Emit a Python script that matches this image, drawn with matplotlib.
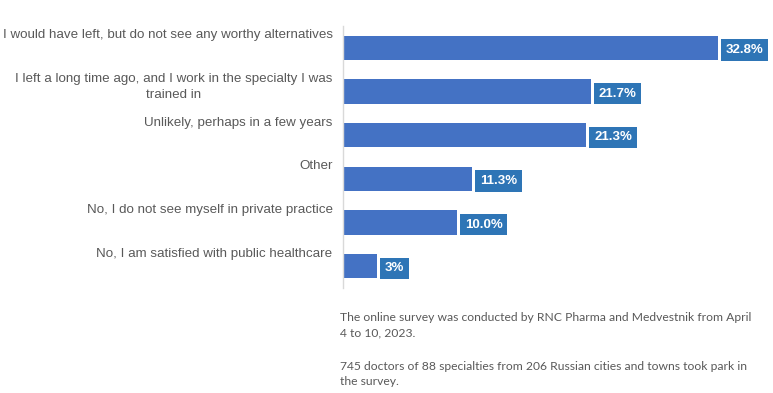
import matplotlib
matplotlib.use("Agg")
import matplotlib.pyplot as plt

# survey answers, top to bottom
answers = [
    "I would have left, but do not see any worthy alternatives",
    "I left a long time ago, and I work in the specialty I was\ntrained in",
    "Unlikely, perhaps in a few years",
    "Other",
    "No, I do not see myself in private practice",
    "No, I am satisfied with public healthcare",
]
shares = [32.8, 21.7, 21.3, 11.3, 10.0, 3.0]
share_labels = ["32.8%", "21.7%", "21.3%", "11.3%", "10.0%", "3%"]

note_1 = ("The online survey was conducted by RNC Pharma and Medvestnik from April\n"
          "4 to 10, 2023.")
note_2 = ("745 doctors of 88 specialties from 206 Russian cities and towns took park in\n"
          "the survey.")

W, H = 773, 393
fig = plt.figure(figsize=(W / 100, H / 100), dpi=100)
# axes in pixel terms: left edge at the grey axis line
ax = fig.add_axes([343 / W, 105 / H, 430 / W, 262 / H])

pos = list(range(len(answers)))
ax.barh(pos, shares, height=0.55, color="#4472C4")
ax.set_xlim(0, 430 / 11.43)
ax.set_ylim(len(answers) - 0.5, -0.5)

for s in ["top", "right", "bottom"]:
    ax.spines[s].set_visible(False)
ax.spines["left"].set_color("#D9D9D9")
ax.spines["left"].set_linewidth(1)
ax.set_xticks([])
ax.set_yticks([])

grey = "#595959"
for i, lab in enumerate(answers):
    ax.annotate(lab, xy=(0, i), xycoords="data", xytext=(-7.5, 13.3),
                textcoords="offset points", ha="right", va="top",
                multialignment="center",
                fontsize=9.6, color=grey, family="Liberation Sans",
                linespacing=1.45)

for i, (v, t) in enumerate(zip(shares, share_labels)):
    ax.annotate(t, xy=(v, i), xycoords="data", xytext=(5.5, -1.5),
                textcoords="offset points", ha="left", va="center",
                fontsize=9.5, color="white", fontweight="bold",
                family="Liberation Sans",
                bbox=dict(facecolor="#2E75B6", edgecolor="none", pad=3.4))

fig.text(340 / W, 1 - 312 / H, note_1, ha="left", va="top", fontsize=8.75,
         color=grey, family="Lato", linespacing=1.45)
fig.text(340 / W, 1 - 361 / H, note_2, ha="left", va="top", fontsize=8.75,
         color=grey, family="Lato", linespacing=1.45)

fig.savefig("out.png", dpi=100)
